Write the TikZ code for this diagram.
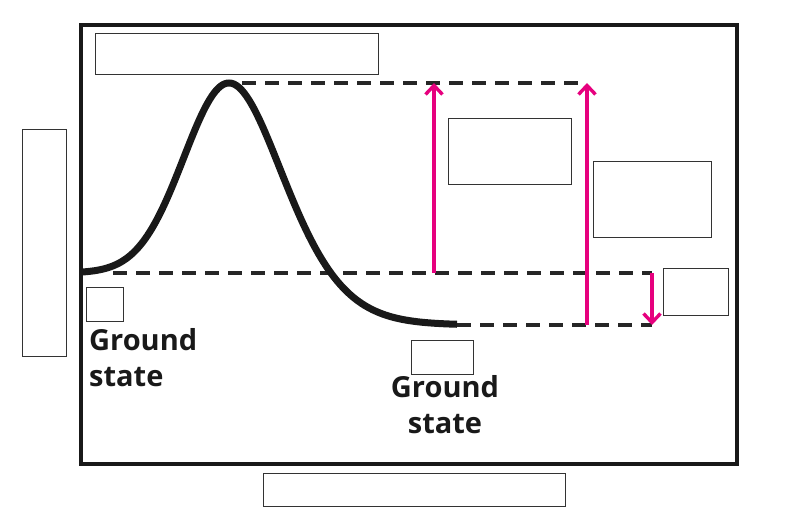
\documentclass[tikz,border=0pt]{standalone}
\usepackage{fontspec}
\newfontfamily\labelfont{Open Sans}
\usetikzlibrary{arrows.meta}
\definecolor{pinkarrow}{HTML}{E6007E}
\definecolor{boxgray}{HTML}{333333}
\tikzset{
  frame/.style={draw=black!90, line width=3.5pt},
  emptybox/.style={draw=boxgray, line width=1.4pt},
  energycurve/.style={draw=black!90, line width=7pt},
  levelline/.style={draw=black!85, line width=3.8pt, dash pattern=on 14pt off 9pt},
  transition/.style={draw=pinkarrow, line width=3.4pt, -{Straight Barb[length=9pt,width=17pt,line width=3.4pt]}},
  statelabel/.style={font=\labelfont\bfseries\fontsize{29}{36}\selectfont, inner sep=0pt, text=black!90}
}
\begin{document}
\begin{tikzpicture}[x=1pt,y=-1pt]
\useasboundingbox (0,0) rectangle (787,510);
% outer frame
\draw[frame] (81,25) rectangle (737,464);
% empty label boxes
\node[emptybox, minimum width=283pt, minimum height=41pt, anchor=north west] (topbox) at (95,33) {};
\node[emptybox, minimum width=44pt, minimum height=227pt, anchor=north west] (leftbox) at (22,129) {};
\node[emptybox, minimum width=302pt, minimum height=33pt, anchor=north west] (bottombox) at (263,473) {};
\node[emptybox, minimum width=123pt, minimum height=66pt, anchor=north west] (boxA) at (448,118) {};
\node[emptybox, minimum width=118pt, minimum height=76pt, anchor=north west] (boxB) at (593,161) {};
\node[emptybox, minimum width=65pt, minimum height=47pt, anchor=north west] (boxC) at (663,268) {};
\node[emptybox, minimum width=37pt, minimum height=34pt, anchor=north west] (boxL) at (86,287) {};
\node[emptybox, minimum width=62pt, minimum height=34pt, anchor=north west] (boxR) at (411,340) {};
% level coordinates
\coordinate (peak) at (229,83);
\coordinate (topend) at (587,83);
\coordinate (midstart) at (113,273);
\coordinate (midend) at (652,273);
\coordinate (lowstart) at (457,325);
\coordinate (lowend) at (652,325);
\coordinate (a1bot) at (434,273);
\coordinate (a1top) at (434,83);
\coordinate (a2bot) at (587,325);
\coordinate (a2top) at (587,83);
% dashed levels
\draw[levelline] ([xshift=13pt]peak) -- (topend);
\draw[levelline] (midstart) -- (midend);
\draw[levelline] (lowstart) -- (lowend);
% energy curve
\draw[energycurve]
  plot[domain=81:229,samples=70] (\x,{273-190*exp(-((\x-229)/64)^2)})
  -- plot[domain=229:457,samples=90] (\x,{325-242*exp(-((\x-229)/(72+0.1*(\x-229)))^2)});
% transitions
\draw[transition] (a1bot) -- (a1top);
\draw[transition] (a2bot) -- (a2top);
\draw[transition] (midend) -- (lowend);
% labels
\node[statelabel, align=left, anchor=north west] (gsleft) at (89,328) {Ground\\state};
\node[statelabel, align=center, anchor=north] (gsright) at (445,375) {Ground\\state};
\end{tikzpicture}
\end{document}
